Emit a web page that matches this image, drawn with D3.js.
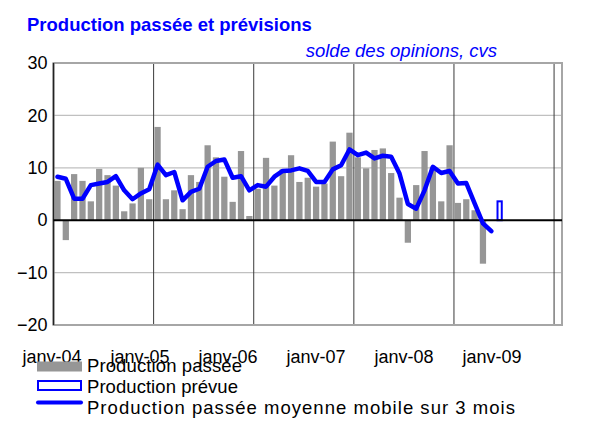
<!DOCTYPE html>
<html>
<head>
<meta charset="utf-8">
<script src="https://cdn.jsdelivr.net/npm/d3@7"></script>
<style>
  html, body { margin: 0; padding: 0; background: #fff; }
  svg { display: block; font-family: "Liberation Sans", Arial, sans-serif; }
</style>
</head>
<body>
<svg id="chart" width="593" height="425"></svg>
<script>
// ---------- data ----------
const title = "Production passée et prévisions";
const subtitle = "solde des opinions, cvs";
const months = d3.timeMonth.range(new Date(2004, 0, 1), new Date(2009, 1, 1)); // janv-04 .. janv-09
const yearLabels = ["janv-04", "janv-05", "janv-06", "janv-07", "janv-08", "janv-09"];
const yTicks = [-20, -10, 0, 10, 20, 30];

// Production passée (janv-04 .. avr-08)
const production = [
  7.5, -3.8, 8.8, 7.5, 3.6, 9.8, 8.6, 6.6, 1.7, 3.2, 10.0, 4.0,
  17.8, 4.0, 5.7, 2.1, 8.6, 7.3, 14.3, 12.0, 8.3, 3.5, 13.2, 0.8,
  6.0, 11.9, 6.6, 9.7, 12.4, 7.3, 8.1, 6.4, 7.0, 15.0, 8.4, 16.7,
  12.0, 9.9, 13.4, 13.7, 9.0, 4.3, -4.3, 6.7, 13.2, 10.2, 3.6, 14.3,
  3.3, 4.0, 1.9, -8.3
];
// Production passée moyenne mobile sur 3 mois (janv-04 .. mai-08)
const movingAvg = [
  8.3, 7.9, 4.1, 4.1, 6.7, 7.0, 7.3, 8.4, 5.7, 4.0, 5.1, 5.9,
  10.6, 8.6, 9.2, 3.8, 5.4, 6.0, 10.2, 11.3, 11.6, 8.1, 8.4, 5.7,
  6.7, 6.4, 8.3, 9.4, 9.5, 9.9, 9.4, 7.3, 7.3, 9.7, 10.5, 13.5,
  12.4, 12.9, 11.8, 12.3, 12.1, 8.9, 3.1, 2.2, 5.7, 10.2, 9.0, 9.4,
  7.0, 7.1, 3.2, -0.6, -2.1
];
// Production prévue
const forecastMonth = [new Date(2008, 5, 1)];
const forecastValue = [3.6];

const legendLabels = ["Production passée", "Production prévue", "Production passée moyenne mobile sur 3 mois"];

// ---------- layout ----------
const svg = d3.select("#chart");
const plot = { left: 53.5, right: 562, top: 63, bottom: 325 };
const BLUE = "#0000ff";
const GREY = "#969696";

const x = d3.scaleBand().domain(months.map(d => +d)).range([plot.left, plot.right]).paddingInner(0.25).paddingOuter(0.1);
const y = d3.scaleLinear().domain([-20, 30]).range([plot.bottom, plot.top]);
const xLab = d3.scalePoint().domain(yearLabels).range([51.5, 491.5]);
const step = x.step();
const bandStart = d => plot.left + months.findIndex(m => +m === +d) * step;

// title
svg.append("text").attr("x", 27).attr("y", 31).attr("fill", BLUE)
  .attr("font-size", 18.5).attr("font-weight", "bold").text(title);
svg.append("text").attr("x", 497).attr("y", 57).attr("fill", BLUE)
  .attr("text-anchor", "end").attr("font-size", 18.5).attr("font-style", "italic").text(subtitle);

// horizontal gridlines
svg.append("g").selectAll("line").data(yTicks.filter(t => t !== 0 && t !== 30 && t !== -20)).join("line")
  .attr("x1", plot.left).attr("x2", plot.right)
  .attr("y1", d => y(d)).attr("y2", d => y(d))
  .attr("stroke", "#c0c0c0").attr("stroke-width", 1.2);

// vertical year lines
const januaries = months.filter(m => m.getMonth() === 0 && m.getFullYear() > 2004);
svg.append("g").selectAll("line").data(januaries).join("line")
  .attr("x1", d => bandStart(d)).attr("x2", d => bandStart(d))
  .attr("y1", plot.top).attr("y2", plot.bottom)
  .attr("stroke", "#3a3a3a").attr("stroke-width", 1);

// bars
svg.append("g").selectAll("rect").data(production).join("rect")
  .attr("x", (d, i) => x(+months[i]))
  .attr("width", x.bandwidth())
  .attr("y", d => y(Math.max(0, d)))
  .attr("height", d => Math.abs(y(d) - y(0)))
  .attr("fill", GREY);

// forecast bar
svg.append("g").selectAll("rect").data(forecastValue).join("rect")
  .attr("x", (d, i) => x(+forecastMonth[i]) + 1)
  .attr("width", x.bandwidth() - 2)
  .attr("y", d => y(d))
  .attr("height", d => y(0) - y(d))
  .attr("fill", "#fff").attr("stroke", BLUE).attr("stroke-width", 2);

// border
svg.append("rect").attr("x", plot.left).attr("y", plot.top)
  .attr("width", plot.right - plot.left).attr("height", plot.bottom - plot.top)
  .attr("fill", "none").attr("stroke", "#a6a6a6").attr("stroke-width", 2);

// left axis line
svg.append("line").attr("x1", plot.left).attr("x2", plot.left)
  .attr("y1", plot.top).attr("y2", plot.bottom).attr("stroke", "#222").attr("stroke-width", 1.5);

// zero line
svg.append("line").attr("x1", plot.left).attr("x2", plot.right)
  .attr("y1", y(0)).attr("y2", y(0)).attr("stroke", "#000").attr("stroke-width", 2);

// moving average line
const line = d3.line().x((d, i) => x(+months[i]) + x.bandwidth() / 2).y(d => y(d));
svg.append("path").datum(movingAvg).attr("d", line)
  .attr("fill", "none").attr("stroke", BLUE).attr("stroke-width", 4.5)
  .attr("stroke-linejoin", "round").attr("stroke-linecap", "round");

// y axis
const yAxis = d3.axisLeft(y).tickValues(yTicks).tickSize(0).tickPadding(6).tickFormat(d3.format("d"));
const gy = svg.append("g").attr("transform", `translate(${plot.left},0)`).call(yAxis);
gy.select(".domain").remove();
gy.selectAll("text").attr("font-size", 18).attr("fill", "#000").attr("font-family", "Liberation Sans, Arial, sans-serif");

// x axis labels
const xAxis = d3.axisBottom(xLab).tickSize(0).tickPadding(0);
const gx = svg.append("g").attr("transform", `translate(0,350)`).call(xAxis);
gx.select(".domain").remove();
gx.selectAll("text").attr("font-size", 18).attr("fill", "#000").attr("font-family", "Liberation Sans, Arial, sans-serif");

// legend
const lg = svg.append("g");
const ly = [371.5, 392.5, 413.5];
const lw = [155, 151, 428];
lg.append("rect").attr("x", 37).attr("y", 361.5).attr("width", 45).attr("height", 10).attr("fill", GREY);
lg.append("rect").attr("x", 38).attr("y", 381).attr("width", 43).attr("height", 9)
  .attr("fill", "#fff").attr("stroke", BLUE).attr("stroke-width", 2);
lg.append("line").attr("x1", 38).attr("x2", 81).attr("y1", 402.5).attr("y2", 402.5)
  .attr("stroke", BLUE).attr("stroke-width", 4).attr("stroke-linecap", "round");
lg.selectAll("text").data(legendLabels).join("text")
  .attr("x", 87).attr("y", (d, i) => ly[i]).attr("font-size", 18.5).attr("fill", "#000")
  .attr("textLength", (d, i) => lw[i]).attr("lengthAdjust", "spacing")
  .text(d => d);
</script>
</body>
</html>
